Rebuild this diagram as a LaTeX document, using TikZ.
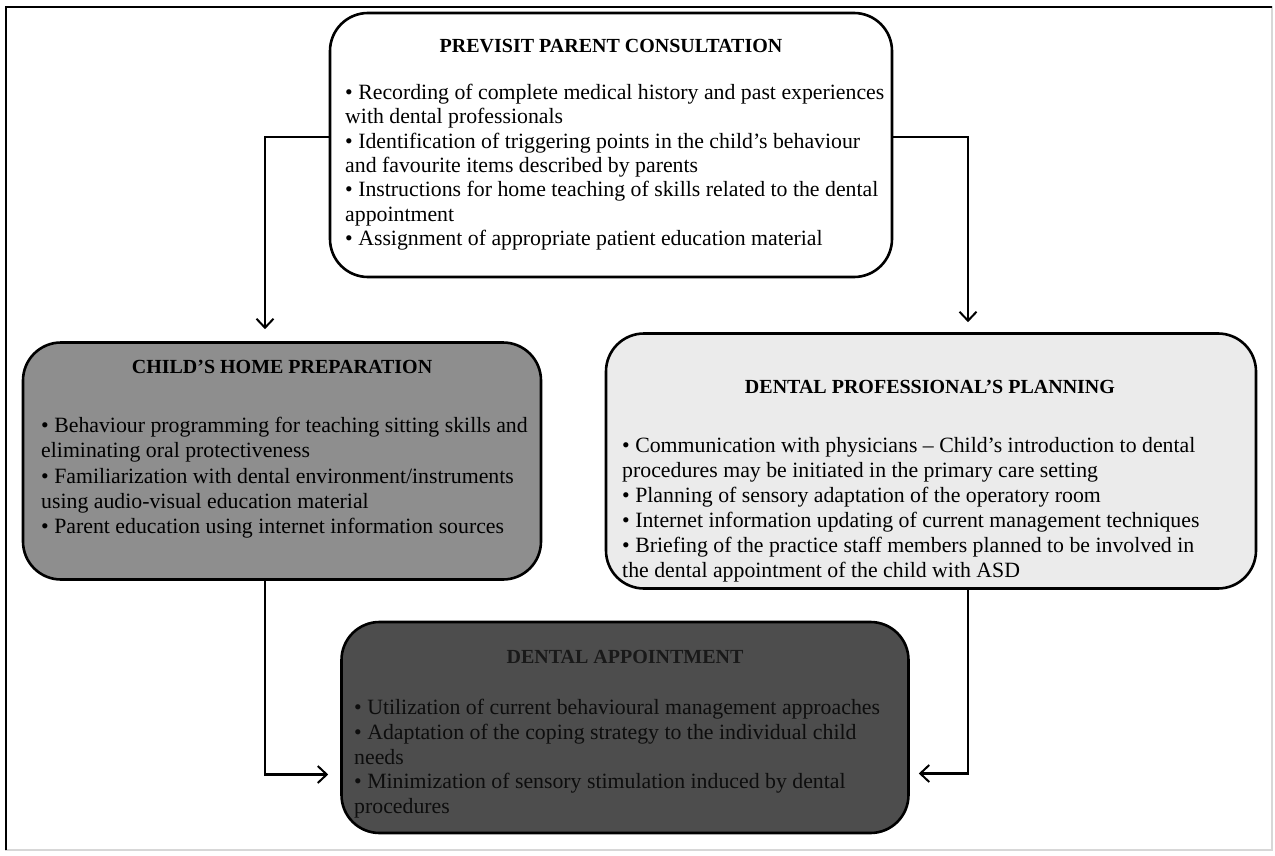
\documentclass[tikz,border=0pt]{standalone}
\usepackage{fontspec}
\setmainfont{Liberation Serif}
\usetikzlibrary{arrows.meta}
\definecolor{homegray}{RGB}{142,142,142}
\definecolor{plangray}{RGB}{235,235,235}
\definecolor{apptgray}{RGB}{77,77,77}
\definecolor{framegray}{RGB}{215,215,215}
\tikzset{
  box/.style={draw=black, line width=2.6pt, rounded corners=38pt, inner sep=0pt},
  ttl/.style={font=\fontsize{20}{22}\selectfont\bfseries, inner sep=0pt, anchor=center},
  body/.style={font=\fontsize{21.8}{24.3}\selectfont, align=left, inner sep=0pt, anchor=north west},
  conn/.style={draw=black, line width=2.2pt, -{Straight Barb[length=9pt,width=17pt,line width=2pt]}}
}
\begin{document}
\begin{tikzpicture}[x=1pt,y=-1pt]
\useasboundingbox (0,0) rectangle (1275,856);
% outer frame
\draw[framegray, line width=1.5pt] (6,7) -| (1272,850) -| (6,7);
\draw[black, line width=2.4pt] (6,850) |- (1272,7);
% boxes
\node[box, fill=white, minimum width=562pt, minimum height=264pt] (top) at (611,145) {};
\node[box, fill=homegray, minimum width=518pt, minimum height=237pt] (home) at (282,461) {};
\node[box, fill=plangray, minimum width=650pt, minimum height=255pt] (plan) at (931,461) {};
\node[box, fill=apptgray, minimum width=567pt, minimum height=211pt] (appt) at (625,727.5) {};
% titles
\node[ttl] (toptitle) at (611,46) {PREVISIT PARENT CONSULTATION};
\node[ttl] (hometitle) at (282,367) {CHILD’S HOME PREPARATION};
\node[ttl] (plantitle) at (930,387) {DENTAL PROFESSIONAL’S PLANNING};
\node[ttl, text=black!90] (appttitle) at (625,657) {DENTAL APPOINTMENT};
% bodies
\node[body] (topbody) at (345,84) {• Recording of complete medical history and past experiences\\
with dental professionals\\
• Identification of triggering points in the child’s behaviour\\
and favourite items described by parents\\
• Instructions for home teaching of skills related to the dental\\
appointment\\
• Assignment of appropriate patient education material};
\node[body, font=\fontsize{21.8}{25.3}\selectfont] (homebody) at (41,417) {• Behaviour programming for teaching sitting skills and\\
eliminating oral protectiveness\\
• Familiarization with dental environment/instruments\\
using audio-visual education material\\
• Parent education using internet information sources};
\node[body, font=\fontsize{21.8}{25}\selectfont] (planbody) at (622,437) {• Communication with physicians – Child’s introduction to dental\\
procedures may be initiated in the primary care setting\\
• Planning of sensory adaptation of the operatory room\\
• Internet information updating of current management techniques\\
• Briefing of the practice staff members planned to be involved in\\
the dental appointment of the child with ASD};
\node[body, font=\fontsize{21.8}{24.75}\selectfont, text=black!95] (apptbody) at (354,699) {• Utilization of current behavioural management approaches\\
• Adaptation of the coping strategy to the individual child\\
needs\\
• Minimization of sensory stimulation induced by dental\\
procedures};
% connectors
\draw[conn, shorten >=12pt] ([yshift=8pt]top.west) -| ([xshift=-17pt]home.north);
\draw[conn, shorten >=10pt] ([yshift=8pt]top.east) -| ([xshift=37pt]plan.north);
\draw[conn, shorten >=12pt] ([xshift=-17pt]home.south) |- ([yshift=-47pt]appt.west);
\draw[conn, shorten >=9pt] ([xshift=37pt]plan.south) |- ([yshift=-46pt]appt.east);
\end{tikzpicture}
\end{document}
